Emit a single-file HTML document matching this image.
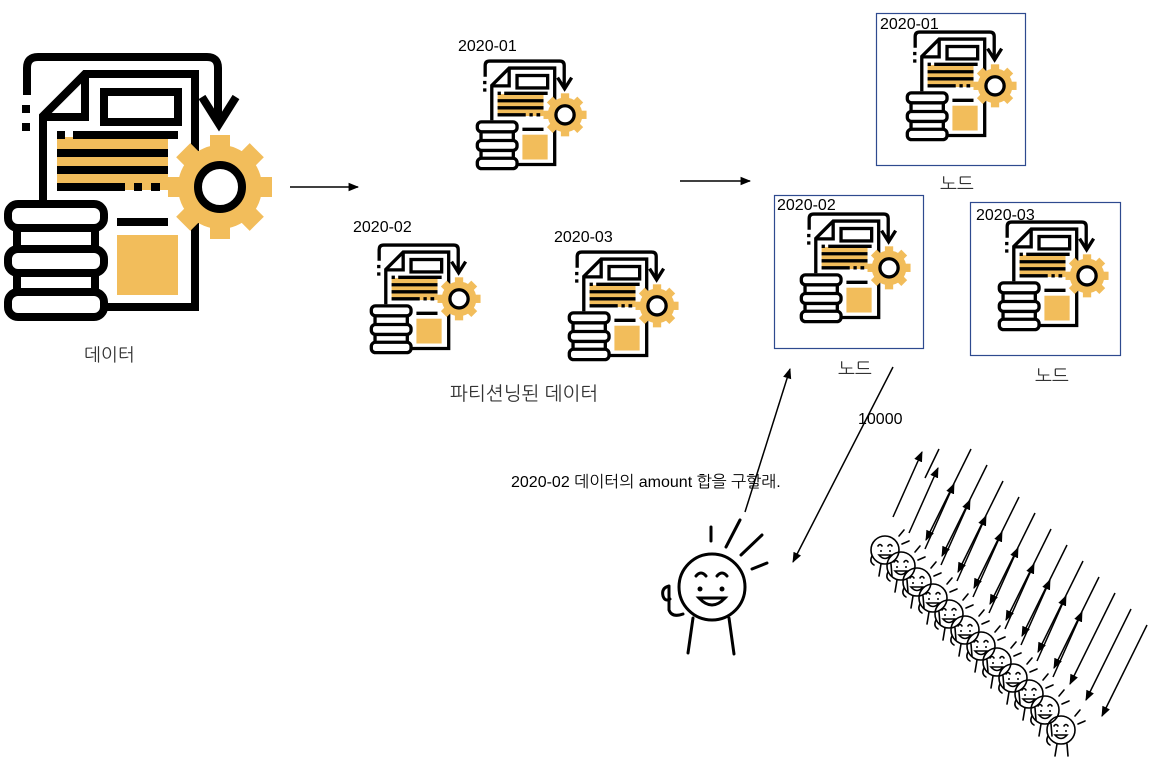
<!DOCTYPE html>
<html><head><meta charset="utf-8"><style>
body{margin:0;background:#fff;width:1149px;height:766px;overflow:hidden}
svg text{font-family:"Liberation Sans","NanumGothic",sans-serif}
</style></head><body>
<svg width="1149" height="766" viewBox="0 0 1149 766" xmlns="http://www.w3.org/2000/svg">
<defs>
<symbol id="ic" viewBox="0 0 290 290">
  <g fill="none" stroke="#000" stroke-width="8">
    <path d="M27 55 V28 Q27 17 38 17 H207 Q218 17 218 28 V83"/>
    <path d="M202 57 L219 84 L236 57"/>
  </g>
  <rect x="22" y="65" width="8" height="8"/><rect x="22" y="83" width="8" height="8"/>
  <rect x="117" y="195" width="61" height="60" fill="#f2bd5b"/>
  <rect x="57" y="97" width="111" height="53" fill="#f2bd5b"/>
  <g fill="none" stroke="#000" stroke-width="8">
    <path d="M43 160 V76 L85 34 H195 V267 H105"/>
    <path d="M85 34 V77 H43"/>
    <rect x="104" y="52" width="74" height="30"/>
    <path d="M73 95 H178 M57 95 H65 M57 113 H168 M57 130 H168 M57 147 H125 M134 147 H142 M151 147 H160 M117 182 H168"/>
  </g>
  <g fill="#f2bd5b">
    <circle cx="220" cy="147" r="42"/>
    <g transform="translate(220 147)">
      <rect x="-10" y="-52" width="20" height="104"/>
      <rect x="-10" y="-52" width="20" height="104" transform="rotate(45)"/>
      <rect x="-10" y="-52" width="20" height="104" transform="rotate(90)"/>
      <rect x="-10" y="-52" width="20" height="104" transform="rotate(135)"/>
    </g>
  </g>
  <circle cx="220" cy="147" r="22" fill="#fff" stroke="#000" stroke-width="8"/>
  <g fill="#fff" stroke="#000" stroke-width="8">
    <path d="M17 188 V207 M95 188 V207 M17 233 V250 M95 233 V250"/>
    <rect x="8" y="164" width="96" height="24" rx="10"/>
    <rect x="8" y="209" width="96" height="24" rx="10"/>
    <rect x="8" y="252" width="96" height="25" rx="10"/>
  </g>
</symbol>
<symbol id="face" viewBox="-20 -30 40 60" overflow="visible">
  <g fill="none" stroke="#000" stroke-width="1.6" stroke-linecap="round">
    <circle cx="0" cy="0" r="14"/>
    <path d="M-7 -4 q2 -3 4 0 M3 -4 q2 -3 4 0"/>
    <path d="M-6 5 q6 7 12 0 z"/>
    <path d="M-13 6 q-3 6 2 9 M-4 14 L-6 26 M6 14 L7 26"/>
    <path d="M14 -14 L19 -20 M17 -6 L24 -9"/>
  </g>
  <circle cx="-4" cy="1" r="1" fill="#000"/><circle cx="5" cy="1" r="1" fill="#000"/>
</symbol>
<marker id="ah" viewBox="0 0 10 10" refX="9" refY="5" markerWidth="7" markerHeight="7" orient="auto"><path d="M0 1 L10 5 L0 9 z" fill="#000"/></marker>
</defs>

<use href="#ic" x="0" y="40" width="290" height="290"/>
<text x="84" y="361" font-size="18" fill="#333">데이터</text>

<line x1="290" y1="187" x2="358" y2="187" stroke="#000" stroke-width="1.5" marker-end="url(#ah)"/>
<line x1="680" y1="181" x2="750" y2="181" stroke="#000" stroke-width="1.5" marker-end="url(#ah)"/>

<use href="#ic" x="474" y="54" width="120" height="120"/>
<use href="#ic" x="368" y="238" width="120" height="120"/>
<use href="#ic" x="566" y="245" width="120" height="120"/>
<text x="458" y="51" font-size="16">2020-01</text>
<text x="353" y="232" font-size="16">2020-02</text>
<text x="554" y="242" font-size="16">2020-03</text>
<text x="450" y="400" font-size="19" fill="#333">파티션닝된 데이터</text>

<rect x="876.5" y="13.5" width="149" height="152" fill="none" stroke="#2e4a8f" stroke-width="1.2"/>
<rect x="774.5" y="195.5" width="149" height="153" fill="none" stroke="#2e4a8f" stroke-width="1.2"/>
<rect x="970.5" y="202.5" width="150" height="153" fill="none" stroke="#2e4a8f" stroke-width="1.2"/>
<use href="#ic" x="904" y="25" width="120" height="120"/>
<use href="#ic" x="798" y="207" width="120" height="120"/>
<use href="#ic" x="996" y="215" width="120" height="120"/>
<text x="880" y="29" font-size="16">2020-01</text>
<text x="777" y="210" font-size="16">2020-02</text>
<text x="976" y="220" font-size="16">2020-03</text>
<text x="940" y="190" font-size="18" fill="#333">노드</text>
<text x="838" y="375" font-size="18" fill="#333">노드</text>
<text x="1035" y="382" font-size="18" fill="#333">노드</text>

<line x1="745" y1="512" x2="790" y2="369" stroke="#000" stroke-width="1.5" marker-end="url(#ah)"/>
<line x1="893" y1="367" x2="793" y2="562" stroke="#000" stroke-width="1.5" marker-end="url(#ah)"/>
<text x="858" y="424" font-size="16">10000</text>
<text x="511" y="487" font-size="16">2020-02 데이터의 amount 합을 구할래.</text>

<!-- main person -->
<g fill="none" stroke="#000" stroke-width="3" stroke-linecap="round">
  <circle cx="712" cy="587" r="33"/>
  <path d="M696 576 q5 -6 10 0 M717 576 q5 -6 10 0"/>
  <path d="M699 598 q13 14 26 0 z"/>
  <path d="M669 586 q-8 2 -6 10 q2 6 7 3 M669 586 V610 q3 8 14 4"/>
  <path d="M693 618 L688 653 M729 618 L734 654"/>
  <path d="M711 527 V541 M726 547 L740 520 M741 555 L762 535 M752 569 L767 563"/>
</g>
<circle cx="700" cy="589" r="2.5"/><circle cx="722" cy="589" r="2.5"/>

<!-- crowd -->
<g>
<use href="#face" x="865" y="520" width="40" height="60"/>
<use href="#face" x="881" y="536" width="40" height="60"/>
<use href="#face" x="897" y="552" width="40" height="60"/>
<use href="#face" x="913" y="568" width="40" height="60"/>
<use href="#face" x="929" y="584" width="40" height="60"/>
<use href="#face" x="945" y="600" width="40" height="60"/>
<use href="#face" x="961" y="616" width="40" height="60"/>
<use href="#face" x="977" y="632" width="40" height="60"/>
<use href="#face" x="993" y="648" width="40" height="60"/>
<use href="#face" x="1009" y="664" width="40" height="60"/>
<use href="#face" x="1025" y="680" width="40" height="60"/>
<use href="#face" x="1041" y="700" width="40" height="60"/>
</g>
<g stroke="#000" stroke-width="1.5">
<line x1="893" y1="517" x2="922" y2="452" marker-end="url(#ah)"/>
<line x1="909" y1="533" x2="938" y2="468" marker-end="url(#ah)"/>
<line x1="925" y1="549" x2="954" y2="484" marker-end="url(#ah)"/>
<line x1="941" y1="565" x2="970" y2="500" marker-end="url(#ah)"/>
<line x1="957" y1="581" x2="986" y2="516" marker-end="url(#ah)"/>
<line x1="973" y1="597" x2="1002" y2="532" marker-end="url(#ah)"/>
<line x1="989" y1="613" x2="1018" y2="548" marker-end="url(#ah)"/>
<line x1="1005" y1="629" x2="1034" y2="564" marker-end="url(#ah)"/>
<line x1="1021" y1="645" x2="1050" y2="580" marker-end="url(#ah)"/>
<line x1="1037" y1="661" x2="1066" y2="596" marker-end="url(#ah)"/>
<line x1="1053" y1="677" x2="1082" y2="612" marker-end="url(#ah)"/>
<line x1="939" y1="449" x2="925" y2="478"/>
<line x1="971" y1="449" x2="926" y2="540" marker-end="url(#ah)"/>
<line x1="987" y1="465" x2="942" y2="556" marker-end="url(#ah)"/>
<line x1="1003" y1="481" x2="958" y2="572" marker-end="url(#ah)"/>
<line x1="1019" y1="497" x2="974" y2="588" marker-end="url(#ah)"/>
<line x1="1035" y1="513" x2="990" y2="604" marker-end="url(#ah)"/>
<line x1="1051" y1="529" x2="1006" y2="620" marker-end="url(#ah)"/>
<line x1="1067" y1="545" x2="1022" y2="636" marker-end="url(#ah)"/>
<line x1="1083" y1="561" x2="1038" y2="652" marker-end="url(#ah)"/>
<line x1="1099" y1="577" x2="1054" y2="668" marker-end="url(#ah)"/>
<line x1="1115" y1="593" x2="1070" y2="684" marker-end="url(#ah)"/>
<line x1="1131" y1="609" x2="1086" y2="700" marker-end="url(#ah)"/>
<line x1="1147" y1="625" x2="1102" y2="716" marker-end="url(#ah)"/>
</g>
</svg>
</body></html>
